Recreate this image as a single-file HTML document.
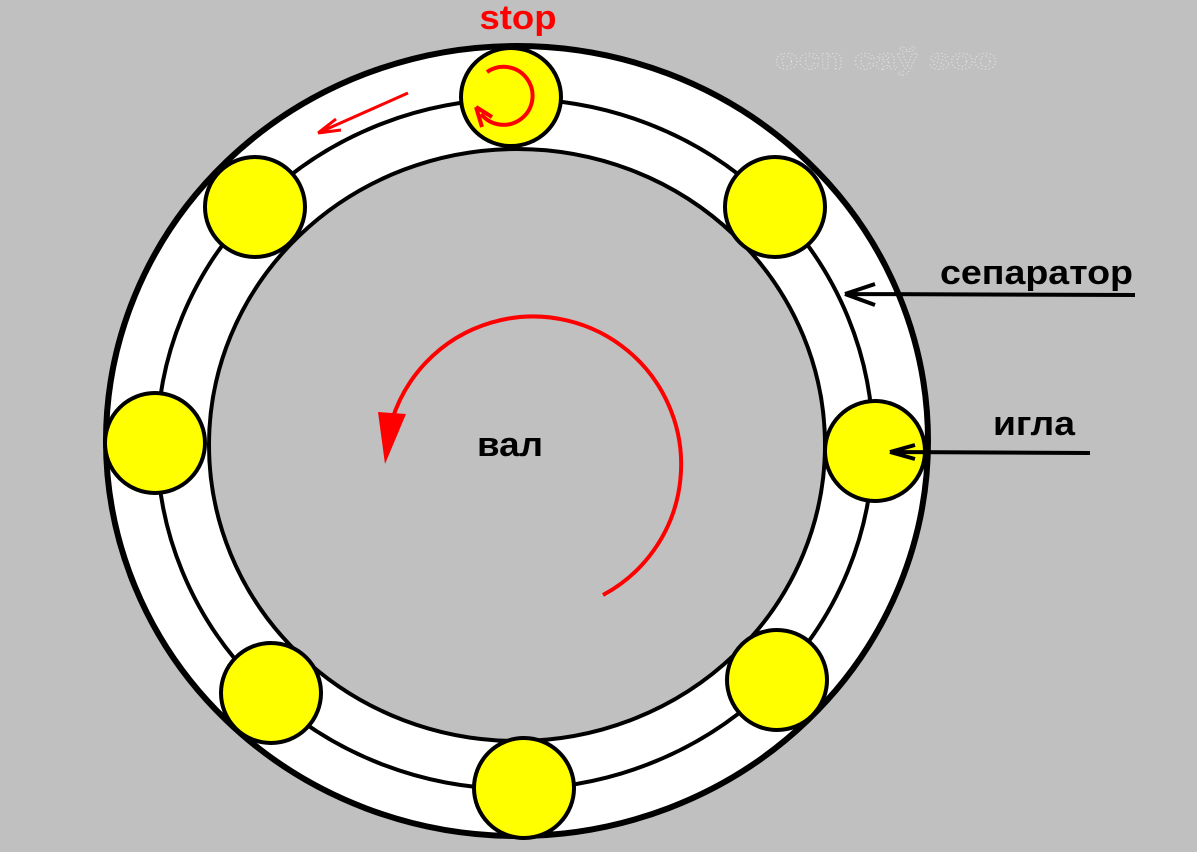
<!DOCTYPE html>
<html><head><meta charset="utf-8"><style>
html,body{margin:0;padding:0;background:#c0c0c0;}
svg{display:block;}
text{font-family:"Liberation Sans",sans-serif;font-weight:bold;}
</style></head><body>
<svg width="1197" height="852" viewBox="0 0 1197 852" xmlns="http://www.w3.org/2000/svg">
<rect width="1197" height="852" fill="#c0c0c0"/>
<ellipse cx="517" cy="441" rx="411" ry="395" fill="#fff" stroke="#000" stroke-width="6"/>
<ellipse cx="515" cy="444" rx="358" ry="345" fill="none" stroke="#000" stroke-width="4"/>
<ellipse cx="517" cy="445" rx="308" ry="296" fill="#c0c0c0" stroke="#000" stroke-width="4"/>
<g fill="#ffff00" stroke="#000" stroke-width="4">
<ellipse cx="511" cy="97" rx="50" ry="49"/>
<circle cx="255" cy="207" r="50"/>
<circle cx="775" cy="207" r="50"/>
<circle cx="155" cy="443" r="50"/>
<circle cx="875" cy="451" r="50"/>
<circle cx="271" cy="693" r="50"/>
<circle cx="777" cy="680" r="50"/>
<circle cx="524" cy="788" r="50"/>
</g>
<text x="518" y="29" font-size="34" fill="#ff0000" text-anchor="middle" textLength="77" lengthAdjust="spacingAndGlyphs">stop</text>
<text x="775" y="69" font-size="30" fill="none" stroke="#e0e0e0" stroke-width="1" stroke-dasharray="1 2" font-weight="normal" textLength="222" lengthAdjust="spacingAndGlyphs">ocn caў soo</text>
<!-- small rotation arrow in top ball -->
<path d="M487 72 A29 29 0 1 1 481 114" fill="none" stroke="#ff0000" stroke-width="4"/>
<path d="M476 107 L492 117 M476 107 L482 127" stroke="#ff0000" stroke-width="4" fill="none"/>
<!-- small red arrow top-left -->
<path d="M408 93 L318 133 M318 133 L336 119 M318 133 L341 130" stroke="#ff0000" stroke-width="3" fill="none"/>
<!-- big red arc -->
<path d="M603 595 A148 148 0 1 0 392 420" fill="none" stroke="#ff0000" stroke-width="4"/>
<polygon points="378,412 406,414 385,464" fill="#ff0000"/>
<text x="477" y="456" font-size="34" fill="#000" textLength="66" lengthAdjust="spacingAndGlyphs">вал</text>
<text x="940" y="284" font-size="34" fill="#000" textLength="193" lengthAdjust="spacingAndGlyphs">сепаратор</text>
<path d="M1135 295 L845 294 M845 294 L875 284 M845 294 L875 305" stroke="#000" stroke-width="4" fill="none"/>
<text x="993" y="435" font-size="34" fill="#000" textLength="82" lengthAdjust="spacingAndGlyphs">игла</text>
<path d="M1090 453 L890 452 M890 452 L915 445 M890 452 L915 459" stroke="#000" stroke-width="4" fill="none"/>
</svg>
</body></html>
